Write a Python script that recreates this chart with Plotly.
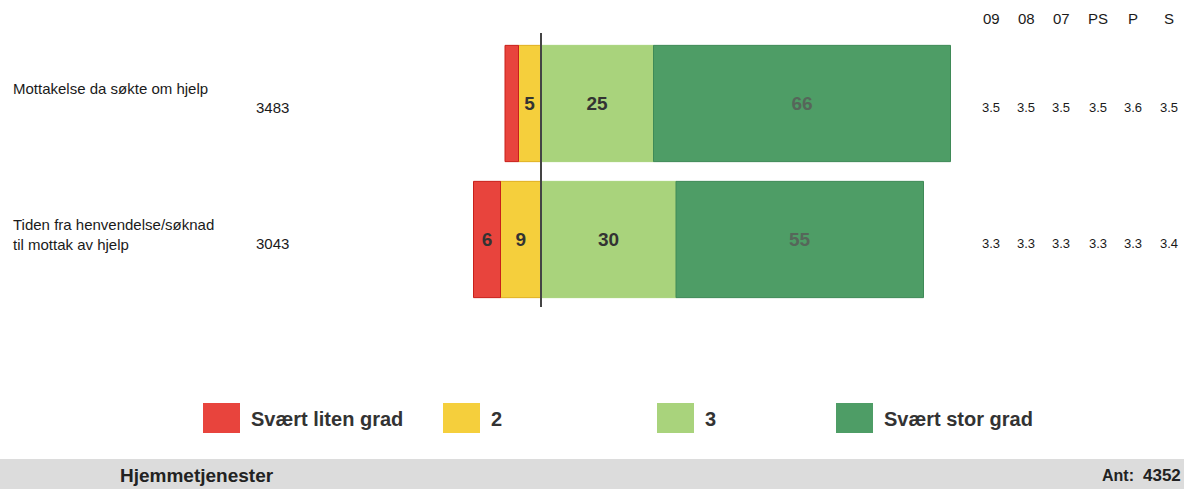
import plotly.graph_objects as go

# ---- data ----
questions = ["Mottakelse da søkte om hjelp", "Tiden fra henvendelse/søknad<br>til mottak av hjelp"]
counts = [3483, 3043]
svaert_liten = [3, 6]
grad2 = [5, 9]
grad3 = [25, 30]
svaert_stor = [66, 55]
col_headers = ["09", "08", "07", "PS", "P", "S"]
means_row1 = [3.5, 3.5, 3.5, 3.5, 3.6, 3.5]
means_row2 = [3.3, 3.3, 3.3, 3.3, 3.3, 3.4]
legend_names = ["Svært liten grad", "2", "3", "Svært stor grad"]
footer_title = "Hjemmetjenester"
footer_ant = 4352

colors = ["#e8443d", "#f5cf3c", "#a9d37c", "#4e9d66"]
line_colors = ["#c8201a", "#e0b020", "#a9d37c", "#3f8a57"]
FONT = "Liberation Sans, Arial, sans-serif"

W, H = 1184, 489
px_per_pct = 4.5
zero_px = 541
x_range = [-zero_px / px_per_pct, (W - zero_px) / px_per_pct]

ycats = [0, 1]
row_spacing = 136.0
row0_center = 103.5
y_top = -row0_center / row_spacing
y_bot = y_top + H / row_spacing


def lbl(vals):
    return [str(v) if v >= 4 else "" for v in vals]


fig = go.Figure()
# negative side: first trace nearest zero
series = [
    (grad2, 1, -1),
    (svaert_liten, 0, -1),
    (grad3, 2, 1),
    (svaert_stor, 3, 1),
]
for vals, ci, sign in series:
    fig.add_trace(go.Bar(
        y=ycats, x=[sign * v for v in vals], orientation="h",
        marker=dict(color=colors[ci], line=dict(color=line_colors[ci], width=1)),
        width=0.855,
        text=lbl(vals), textposition="inside", insidetextanchor="middle",
        constraintext="none", cliponaxis=False,
        textfont=dict(family=FONT, size=19,
                      color="#56665a" if ci == 3 else "#333333", weight="bold"),
        name=legend_names[ci], showlegend=False, hoverinfo="skip",
    ))

shapes = []
annotations = []

# zero line
shapes.append(dict(type="line", xref="x", yref="paper", x0=0, x1=0,
                   y0=1 - 33 / H, y1=1 - 307 / H,
                   line=dict(color="#444444", width=2)))

# row labels and counts
for i, q in enumerate(questions):
    annotations.append(dict(x=11 / W, y=i - (0.11 if i == 0 else 0.04), xref="paper", yref="y",
                            text=q, showarrow=False, xanchor="left", yanchor="middle",
                            align="left",
                            font=dict(family=FONT, size=15, color="#1a1a1a")))
    annotations.append(dict(x=272 / W, y=i + 0.03, xref="paper", yref="y",
                            text=str(counts[i]), showarrow=False, xanchor="center",
                            font=dict(family=FONT, size=15, color="#1a1a1a")))

# mean columns
col_x = [991, 1026, 1061, 1098, 1133, 1169]
for j, h in enumerate(col_headers):
    annotations.append(dict(x=col_x[j] / W, y=1 - 18 / H, xref="paper", yref="paper",
                            text=h, showarrow=False, xanchor="center", yanchor="middle",
                            font=dict(family=FONT, size=15, color="#1a1a1a")))
    for i, row in enumerate([means_row1, means_row2]):
        annotations.append(dict(x=col_x[j] / W, y=i + 0.03, xref="paper", yref="y",
                                text=f"{row[j]:.1f}", showarrow=False, xanchor="center",
                                font=dict(family=FONT, size=13, color="#1a1a1a")))

# legend
leg_sw = [203, 443, 657, 836]
for k, name in enumerate(legend_names):
    shapes.append(dict(type="rect", xref="paper", yref="paper",
                       x0=leg_sw[k] / W, x1=(leg_sw[k] + 37) / W,
                       y0=1 - 433 / H, y1=1 - 403 / H,
                       fillcolor=colors[k], line=dict(width=0)))
    annotations.append(dict(x=(leg_sw[k] + 46) / W, y=1 - 419 / H, xref="paper", yref="paper",
                            text=name, showarrow=False, xanchor="left", yanchor="middle",
                            font=dict(family=FONT, size=20, color="#333333", weight="bold")))

# footer band
shapes.append(dict(type="rect", xref="paper", yref="paper", x0=0, x1=1,
                   y0=0, y1=1 - 459 / H, fillcolor="#dcdcdc", line=dict(width=0),
                   layer="below"))
annotations.append(dict(x=118 / W, y=1 - 475 / H, xref="paper", yref="paper",
                        text=footer_title, showarrow=False, xanchor="left", yanchor="middle",
                        font=dict(family=FONT, size=19, color="#222222", weight="bold")))
annotations.append(dict(x=1100 / W, y=1 - 475 / H, xref="paper", yref="paper",
                        text="Ant:", showarrow=False, xanchor="left", yanchor="middle",
                        font=dict(family=FONT, size=16, color="#222222", weight="bold")))
annotations.append(dict(x=1183 / W, y=1 - 475 / H, xref="paper", yref="paper",
                        text=str(footer_ant), showarrow=False, xanchor="right", yanchor="middle",
                        font=dict(family=FONT, size=17, color="#222222", weight="bold")))

fig.update_layout(
    width=W, height=H, barmode="relative",
    margin=dict(l=0, r=0, t=0, b=0),
    paper_bgcolor="white", plot_bgcolor="white",
    xaxis=dict(range=x_range, visible=False, fixedrange=True),
    yaxis=dict(range=[y_bot, y_top], visible=False, fixedrange=True),
    shapes=shapes, annotations=annotations,
    showlegend=False,
)

fig.write_html("out.html", config={"displayModeBar": False},
               post_script="document.body.style.margin='0';document.body.style.overflow='hidden';")
